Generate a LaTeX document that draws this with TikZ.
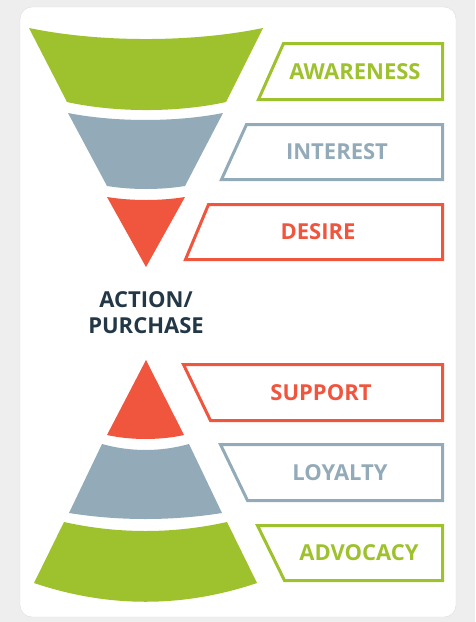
\documentclass[tikz,border=0pt]{standalone}
\usepackage{fontspec}
\setmainfont{Open Sans}
\definecolor{fgreen}{HTML}{9EC22E}
\definecolor{fgray}{HTML}{93ABB9}
\definecolor{fred}{HTML}{F0553E}
\definecolor{fnavy}{HTML}{233746}
\definecolor{bggray}{HTML}{EEEEEE}
\definecolor{cardline}{HTML}{DEDEDE}
\begin{document}
\begin{tikzpicture}[x=1pt,y=-1pt,
  lbl/.style={font=\fontsize{22}{26}\selectfont\bfseries, inner sep=0pt},
  boxline/.style={line width=3pt, fill=white, line join=miter}]
\useasboundingbox (0,0) rectangle (475,622);
\fill[bggray] (0,0) rectangle (475,622);
\draw[cardline, fill=white, rounded corners=12pt] (20,7) rectangle (456,617);
% top funnel
\fill[fgreen] (29,28) .. controls (100,42.7) and (192,42.7) .. (263,28)
  -- (226,102) .. controls (178,112.7) and (115,112.7) .. (67,102) -- cycle;
\fill[fgray] (68,113) .. controls (115,122.3) and (176,122.3) .. (223,113)
  -- (185,186) .. controls (160,190) and (132,190) .. (107,186) -- cycle;
\fill[fred] (107,197) .. controls (132,201) and (160,201) .. (185,197)
  -- (146,267) -- cycle;
% middle text
\node[lbl, text=fnavy, align=center, font=\fontsize{22}{26}\selectfont\bfseries] (act) at (146,313) {ACTION/\\PURCHASE};
% bottom pyramid
\fill[fred] (146,360) -- (184,435) .. controls (160,440.3) and (131,440.3) .. (107,435) -- cycle;
\fill[fgray] (102,444) .. controls (131,452) and (160,452) .. (189,444)
  -- (222,513) .. controls (172,521) and (119,521) .. (69,513) -- cycle;
\fill[fgreen] (64,522) .. controls (118,534) and (173,534) .. (227,522)
  -- (257,583) .. controls (183,608) and (108,608) .. (34,583) -- cycle;
% labels
\draw[boxline, draw=fgreen] (283.5,43.5) -- (442.5,43.5) -- (442.5,99.5) -- (258.5,99.5) -- cycle;
\node[lbl, text=fgreen] (aw) at (355,72) {AWARENESS};
\draw[boxline, draw=fgray] (246.5,124.5) -- (442.5,124.5) -- (442.5,179.5) -- (221.5,179.5) -- cycle;
\node[lbl, text=fgray] (in) at (337,152) {INTEREST};
\draw[boxline, draw=fred] (208.5,204.5) -- (442.5,204.5) -- (442.5,259.5) -- (185.5,259.5) -- cycle;
\node[lbl, text=fred] (de) at (318,232) {DESIRE};
\draw[boxline, draw=fred] (183.5,364.5) -- (442.5,364.5) -- (442.5,420.5) -- (210.5,420.5) -- cycle;
\node[lbl, text=fred] (su) at (321,393) {SUPPORT};
\draw[boxline, draw=fgray] (220.5,444.5) -- (442.5,444.5) -- (442.5,500.5) -- (247.5,500.5) -- cycle;
\node[lbl, text=fgray] (lo) at (340,473) {LOYALTY};
\draw[boxline, draw=fgreen] (257.5,525.5) -- (442.5,525.5) -- (442.5,580.5) -- (284.5,580.5) -- cycle;
\node[lbl, text=fgreen] (ad) at (359,553) {ADVOCACY};
\end{tikzpicture}
\end{document}
